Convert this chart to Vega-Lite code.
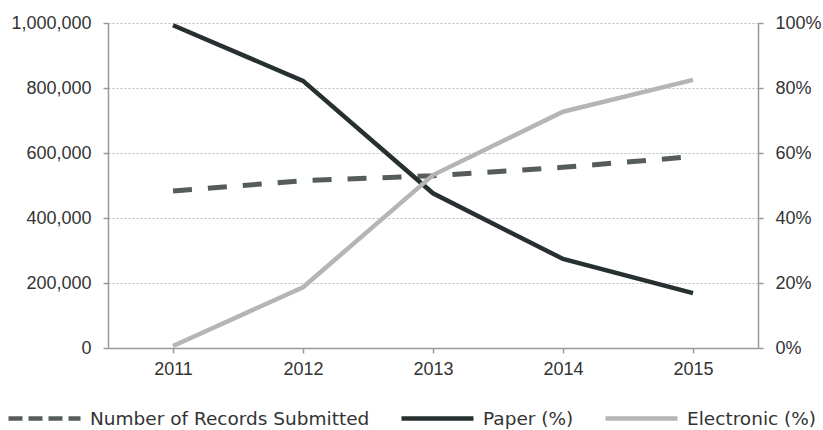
{
  "$schema": "https://vega.github.io/schema/vega-lite/v6.json",
  "width": 650,
  "height": 325,
  "autosize": {"type": "none"},
  "padding": {"left": 108, "top": 23, "right": 65, "bottom": 82},
  "background": "white",
  "config": {
    "view": {"stroke": null},
    "axis": {
      "labelFont": "Liberation Sans",
      "labelFontSize": 18,
      "labelColor": "#333333",
      "domainColor": "#999999",
      "domainWidth": 1.5,
      "tickColor": "#999999",
      "tickWidth": 1.5,
      "tickSize": 5,
      "title": null,
      "gridColor": "#bbbbbb",
      "gridDash": [2, 2],
      "gridWidth": 1
    }
  },
  "data": {
    "values": [
      {"year": "2011", "series": "Number of Records Submitted", "value": 483000},
      {"year": "2012", "series": "Number of Records Submitted", "value": 515000},
      {"year": "2013", "series": "Number of Records Submitted", "value": 530000},
      {"year": "2014", "series": "Number of Records Submitted", "value": 556000},
      {"year": "2015", "series": "Number of Records Submitted", "value": 589000},
      {"year": "2011", "series": "Paper (%)", "value": 0.993},
      {"year": "2012", "series": "Paper (%)", "value": 0.822},
      {"year": "2013", "series": "Paper (%)", "value": 0.476},
      {"year": "2014", "series": "Paper (%)", "value": 0.274},
      {"year": "2015", "series": "Paper (%)", "value": 0.169},
      {"year": "2011", "series": "Electronic (%)", "value": 0.006},
      {"year": "2012", "series": "Electronic (%)", "value": 0.187},
      {"year": "2013", "series": "Electronic (%)", "value": 0.532},
      {"year": "2014", "series": "Electronic (%)", "value": 0.727},
      {"year": "2015", "series": "Electronic (%)", "value": 0.825}
    ]
  },
  "encoding": {
    "x": {
      "field": "year",
      "type": "ordinal",
      "scale": {"type": "point", "padding": 0.5},
      "axis": {"labelAngle": 0, "labelPadding": 7, "grid": false}
    },
    "color": {
      "field": "series",
      "type": "nominal",
      "scale": {
        "domain": ["Number of Records Submitted", "Paper (%)", "Electronic (%)"],
        "range": ["#565c5c", "#263030", "#b5b5b5"]
      },
      "legend": {
        "title": null,
        "orient": "none",
        "direction": "horizontal",
        "legendX": -102,
        "legendY": 357,
        "symbolType": "stroke",
        "symbolSize": 5184,
        "symbolStrokeWidth": 4.5,
        "labelFont": "DejaVu Sans",
        "labelFontSize": 18.5,
        "labelColor": "#333333",
        "labelOffset": 7,
        "columnPadding": 22,
        "padding": 0,
        "labelLimit": 400,
        "encode": {
          "symbols": {
            "update": {
              "strokeDash": [
                {"test": "datum.value === 'Number of Records Submitted'", "value": [14, 6]},
                {"value": [1, 0]}
              ]
            }
          }
        }
      }
    }
  },
  "layer": [
    {
      "transform": [{"filter": "datum.series === 'Number of Records Submitted'"}],
      "mark": {"type": "line", "strokeWidth": 5, "strokeDash": [19, 16]},
      "encoding": {
        "y": {
          "field": "value",
          "type": "quantitative",
          "scale": {"domain": [0, 1000000]},
          "axis": {
            "orient": "left",
            "values": [0, 200000, 400000, 600000, 800000, 1000000],
            "format": ",d",
            "labelPadding": 12,
            "grid": true
          }
        }
      }
    },
    {
      "transform": [{"filter": "datum.series !== 'Number of Records Submitted'"}],
      "mark": {"type": "line", "strokeWidth": 4.5},
      "encoding": {
        "y": {
          "field": "value",
          "type": "quantitative",
          "scale": {"domain": [0, 1]},
          "axis": {
            "orient": "right",
            "values": [0, 0.2, 0.4, 0.6, 0.8, 1],
            "format": ".0%",
            "labelPadding": 12,
            "grid": false
          }
        }
      }
    }
  ],
  "resolve": {"scale": {"y": "independent"}}
}
